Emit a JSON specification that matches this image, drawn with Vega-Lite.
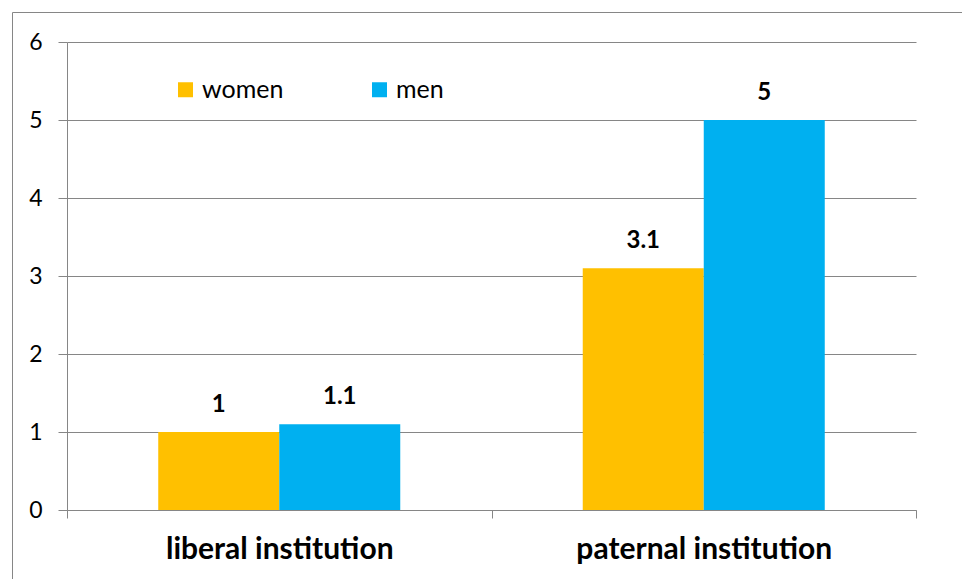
{
  "$schema": "https://vega.github.io/schema/vega-lite/v6.json",
  "width": 962,
  "height": 579,
  "autosize": {"type": "none"},
  "padding": {"left": 12, "top": 12, "right": 0, "bottom": 0},
  "background": "white",
  "config": {
    "font": "Lato",
    "view": {"stroke": "#868686", "strokeWidth": 1}
  },
  "data": {
    "values": [
      {"institution": "liberal institution", "sex": "women", "value": 1},
      {"institution": "liberal institution", "sex": "men", "value": 1.1},
      {"institution": "paternal institution", "sex": "women", "value": 3.1},
      {"institution": "paternal institution", "sex": "men", "value": 5}
    ]
  },
  "encoding": {
    "x": {
      "field": "institution",
      "type": "nominal",
      "sort": null,
      "scale": {"range": [55, 904], "paddingInner": 0, "paddingOuter": 0},
      "axis": {
        "title": null,
        "orient": "bottom",
        "offset": -81,
        "tickBand": "extent",
        "labelAngle": 0,
        "labelLimit": 0,
        "labelFontSize": 30,
        "labelFontWeight": "bold",
        "labelColor": "#000000",
        "labelPadding": 16,
        "tickSize": 8,
        "tickColor": "#868686",
        "tickWidth": 1,
        "domainColor": "#868686",
        "domainWidth": 1,
        "grid": false
      }
    },
    "xOffset": {
      "field": "sex",
      "type": "nominal",
      "sort": ["women", "men"],
      "scale": {"paddingInner": 0, "paddingOuter": 0.754}
    },
    "y": {
      "field": "value",
      "type": "quantitative",
      "scale": {"domain": [0, 6], "range": [498, 30], "nice": false, "zero": true},
      "axis": {
        "title": null,
        "offset": -55,
        "values": [0, 1, 2, 3, 4, 5, 6],
        "format": "d",
        "tickSize": 9,
        "tickColor": "#868686",
        "tickWidth": 1,
        "domainColor": "#868686",
        "domainWidth": 1,
        "grid": true,
        "gridColor": "#868686",
        "gridWidth": 1,
        "labelFontSize": 23,
        "labelColor": "#000000",
        "labelPadding": 16
      }
    }
  },
  "layer": [
    {
      "mark": {"type": "bar"},
      "encoding": {
        "color": {
          "field": "sex",
          "type": "nominal",
          "scale": {"domain": ["women", "men"], "range": ["#FFC000", "#00B0F0"]},
          "legend": {
            "title": null,
            "orient": "none",
            "legendX": 161,
            "legendY": 65,
            "padding": 0,
            "direction": "horizontal",
            "symbolType": "square",
            "symbolSize": 225,
            "symbolStrokeWidth": 0,
            "labelFontSize": 25,
            "labelColor": "#000000",
            "labelOffset": 4,
            "columnPadding": 83
          }
        }
      }
    },
    {
      "mark": {
        "type": "text",
        "dy": -20,
        "baseline": "alphabetic",
        "fontWeight": "bold",
        "fontSize": 24,
        "color": "#000000"
      },
      "encoding": {
        "text": {"field": "value", "type": "quantitative"}
      }
    }
  ]
}
